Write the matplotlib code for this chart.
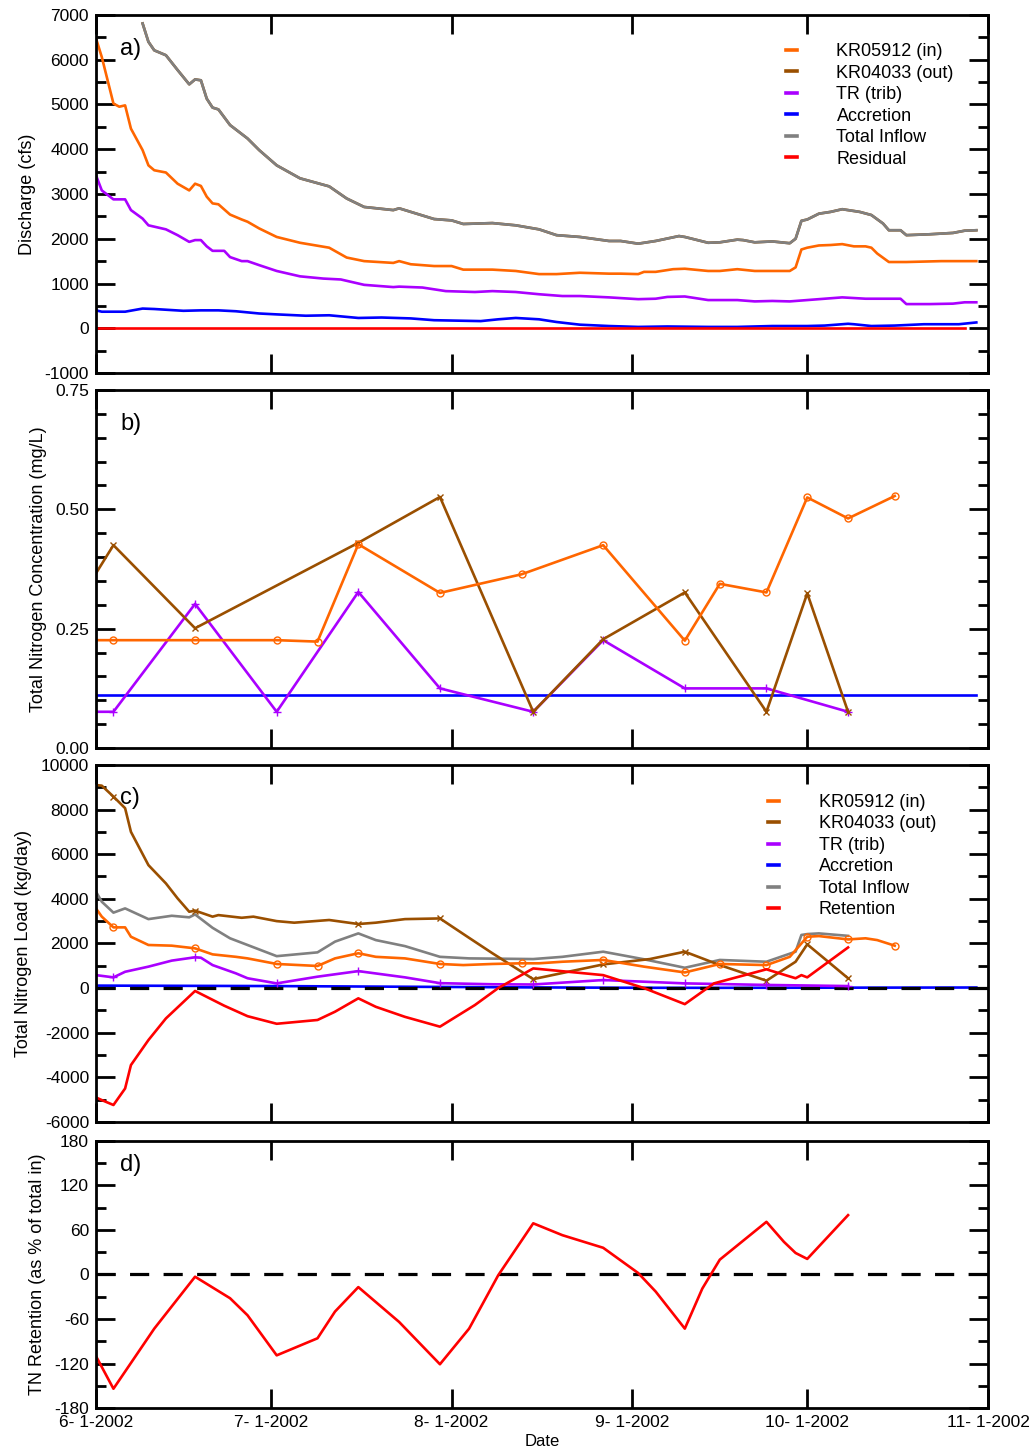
import numpy as np
import matplotlib
matplotlib.use('Agg')
import matplotlib.pyplot as plt
from matplotlib.lines import Line2D
from matplotlib.ticker import MultipleLocator, FormatStrFormatter
from datetime import date

plt.rcParams['font.family'] = ['Liberation Sans', 'DejaVu Sans']
plt.rcParams['axes.unicode_minus'] = False

# x values are days since 2002-06-01
START = date(2002, 6, 1)
month_starts = [date(2002, m, 1) for m in range(6, 12)]
tick_days = [(m - START).days for m in month_starts]
tick_labels = [f"{m.month}- {m.day}-{m.year}" for m in month_starts]

# ---- a) discharge (cfs) ----
in_q_days = [0, 1, 3, 4, 5, 6, 8, 9, 10, 12, 14, 16, 17, 18, 19, 20, 21, 23, 25, 26, 28,
             31, 35, 40, 43, 46, 51, 52, 54, 58, 61, 63, 68, 72, 76, 79, 83, 88, 90, 93,
             94, 96, 99, 101, 105, 107, 110, 113, 116, 119, 120, 121, 122, 124, 126, 128,
             130, 132, 133, 134, 136, 139, 145, 151]
in_q = [6480, 6060, 5020, 4950, 4980, 4460, 3980, 3640, 3530, 3480, 3230, 3080, 3230, 3180,
        2940, 2790, 2770, 2540, 2430, 2380, 2230, 2040, 1910, 1800, 1580, 1500, 1460, 1500,
        1430, 1390, 1390, 1310, 1310, 1280, 1210, 1210, 1240, 1220, 1220, 1210, 1260, 1260,
        1320, 1330, 1280, 1280, 1320, 1280, 1280, 1280, 1360, 1760, 1800, 1850, 1860, 1880,
        1830, 1830, 1800, 1670, 1480, 1480, 1500, 1500]

trib_q_days = [0, 1, 3, 4, 5, 6, 8, 9, 12, 14, 16, 17, 18, 19, 20, 22, 23, 25, 26, 28, 31,
               35, 39, 42, 46, 51, 52, 56, 60, 65, 68, 72, 76, 80, 83, 88, 93, 96, 98, 101,
               105, 110, 113, 116, 119, 122, 125, 128, 132, 136, 138, 139, 143, 147, 149, 151]
trib_q = [3420, 3080, 2880, 2880, 2880, 2640, 2450, 2300, 2210, 2080, 1930, 1970, 1970, 1830,
          1730, 1730, 1590, 1500, 1500, 1410, 1280, 1160, 1110, 1090, 970, 920, 930, 910, 830,
          810, 830, 810, 760, 720, 720, 690, 650, 660, 700, 710, 630, 630, 600, 610, 600, 630,
          660, 690, 660, 660, 660, 540, 540, 550, 580, 580]

acc_q_days = [0, 1, 3, 5, 8, 10, 15, 18, 21, 24, 28, 31, 36, 40, 45, 49, 54, 58, 66, 69, 72,
              76, 79, 83, 88, 93, 98, 105, 110, 116, 122, 125, 129, 130, 133, 137, 142, 148, 151]
acc_q = [400, 370, 370, 370, 440, 430, 390, 400, 400, 380, 330, 310, 280, 290, 230, 240, 220,
         180, 160, 200, 230, 200, 140, 80, 50, 30, 40, 30, 30, 50, 50, 60, 100, 90, 50, 60, 90,
         90, 130]

total_q_days = [8, 9, 10, 12, 14, 16, 17, 18, 19, 20, 21, 23, 25, 26, 28,
                31, 35, 40, 43, 46, 51, 52, 54, 58, 61, 63, 68, 72, 76, 79, 83, 88, 90, 93,
                96, 100, 101, 105, 107, 110, 111, 113, 116, 119, 120, 121, 122, 124, 126, 128,
                131, 133, 135, 136, 138, 139, 143, 147, 149, 151]
total_q = [6810, 6400, 6210, 6100, 5770, 5450, 5560, 5540,
           5130, 4930, 4890, 4540, 4340, 4240, 3980, 3640, 3350, 3170, 2900, 2710, 2640, 2680,
           2600, 2440, 2410, 2330, 2350, 2300, 2210, 2080, 2040, 1950, 1950, 1890, 1950, 2060,
           2040, 1910, 1920, 1980, 1970, 1920, 1940, 1900, 2000, 2400, 2430, 2560, 2600, 2660,
           2600, 2530, 2340, 2190, 2190, 2080, 2100, 2130, 2180, 2190]

# outflow equals total inflow (zero residual)
out_q_days = total_q_days
out_q = total_q
resid_days = [0, 149]
resid_q = [0, 0]

# ---- b) TN concentration (mg/L) ----
in_c_days = [0, 3, 17, 31, 38, 45, 59, 73, 87, 101, 107, 115, 122, 129, 137]
in_c = [0.226, 0.226, 0.226, 0.226, 0.223, 0.427, 0.325, 0.364, 0.425, 0.225, 0.344, 0.326,
        0.525, 0.481, 0.528]
out_c_days = [0, 3, 17, 45, 59, 75, 87, 101, 115, 122, 129]
out_c = [0.366, 0.425, 0.251, 0.430, 0.526, 0.076, 0.228, 0.326, 0.076, 0.324, 0.076]
trib_c_days = [0, 3, 17, 31, 45, 59, 75, 87, 101, 115, 129]
trib_c = [0.076, 0.076, 0.302, 0.076, 0.327, 0.125, 0.076, 0.226, 0.125, 0.125, 0.076]
acc_c_days = [0, 151]
acc_c = [0.111, 0.111]

# ---- c) TN load (kg/day) ----
in_load_days = [0, 1, 3, 5, 6, 9, 13, 17, 20, 24, 26, 31, 38, 41, 45, 48, 53, 59, 63, 68, 73,
                76, 80, 87, 94, 101, 107, 115, 119, 120, 122, 124, 129, 132, 134, 137]
in_load = [3570, 3200, 2720, 2720, 2300, 1930, 1900, 1780, 1510, 1400, 1330, 1080, 990, 1330,
           1560, 1400, 1330, 1080, 1030, 1080, 1110, 1110, 1180, 1260, 960, 700, 1080, 1030,
           1400, 1700, 2300, 2330, 2180, 2230, 2150, 1900]
in_sample_days = [3, 17, 31, 38, 45, 59, 73, 87, 101, 107, 115, 122, 129, 137]

out_load_days = [0, 1, 3, 5, 6, 9, 12, 14, 16, 17, 20, 21, 25, 27, 31, 34, 40, 45, 48, 53, 59,
                 64, 68, 75, 87, 95, 101, 107, 115, 120, 122, 129]
out_load = [9100, 9070, 8580, 8060, 7000, 5510, 4690, 4020, 3420, 3470, 3200, 3270, 3150, 3200,
            3000, 2930, 3050, 2870, 2930, 3090, 3120, 2250, 1560, 400, 1060, 1300, 1630, 1030,
            330, 1180, 1960, 440]
out_sample_days = [3, 17, 45, 59, 75, 87, 101, 115, 122, 129]

trib_load_days = [0, 3, 5, 9, 13, 17, 18, 20, 24, 26, 31, 38, 45, 53, 59, 68, 75, 87, 101, 115,
                  129]
trib_load = [580, 480, 730, 960, 1230, 1380, 1360, 1030, 660, 440, 210, 510, 760, 480, 220,
             170, 160, 360, 210, 140, 90]
trib_sample_days = [3, 17, 31, 45, 59, 75, 87, 101, 115, 129]

acc_load_days = [0, 15, 30, 45, 60, 75, 90, 105, 120, 135, 151]
acc_load = [110, 100, 90, 70, 50, 30, 15, 10, 15, 20, 25]

total_load_days = [0, 1, 3, 5, 9, 13, 16, 17, 20, 23, 26, 31, 38, 41, 45, 48, 53, 59, 64, 75,
                   80, 87, 94, 101, 107, 115, 120, 121, 122, 124, 129]
total_load = [4320, 3870, 3380, 3570, 3090, 3240, 3170, 3300, 2700, 2230, 1930, 1430, 1600, 2080,
              2450, 2150, 1880, 1400, 1330, 1300, 1400, 1630, 1290, 910, 1260, 1180, 1630, 2380,
              2420, 2450, 2340]

ret_load_days = [0, 1, 3, 5, 6, 9, 12, 17, 22, 26, 31, 38, 41, 45, 48, 53, 59, 65, 69, 75, 87,
                 94, 101, 106, 115, 120, 121, 122, 129]
ret_load = [-4900, -5020, -5240, -4500, -3450, -2330, -1360, -130, -790, -1260, -1600, -1430,
            -1060, -460, -840, -1290, -1730, -760, 0, 880, 580, 0, -720, 210, 840, 440, 580,
            480, 1820]

# ---- d) retention as % of total in ----
ret_pct_days = [0, 3, 10, 17, 23, 26, 31, 38, 41, 45, 52, 59, 64, 69, 75, 80, 87, 93, 96, 101,
                104, 107, 115, 118, 120, 122, 129]
ret_pct = [-110, -154, -73, -3, -32, -55, -109, -86, -50, -17, -64, -121, -73, -1, 69, 53, 36,
           2, -23, -73, -19, 20, 71, 44, 29, 21, 80]

C_IN = '#ff6600'
C_OUT = '#9a4f00'
C_TRIB = '#aa00ff'
C_ACC = '#0000ff'
C_TOT = '#808080'
C_RED = '#ff0000'
LW = 1.9
LABEL_FS = 13


def style_axis(ax, ylim, major, minor, show_x=False):
    ax.set_xlim(0, tick_days[-1])
    ax.set_ylim(*ylim)
    ax.set_xticks(tick_days)
    ax.set_xticklabels(tick_labels if show_x else [])
    ax.yaxis.set_major_locator(MultipleLocator(major))
    ax.yaxis.set_minor_locator(MultipleLocator(minor))
    ax.tick_params(which='both', direction='in', top=True, right=True, width=2,
                   labelsize=12.5, pad=5)
    ax.tick_params(which='major', length=14)
    ax.tick_params(which='minor', length=7)
    for s in ax.spines.values():
        s.set_linewidth(2)


def add_legend(ax, labels, colors, x, y):
    handles = [Line2D([], [], color=c, lw=2.6) for c in colors]
    ax.legend(handles, labels, loc='upper left', bbox_to_anchor=(x, y), frameon=False,
              fontsize=13, handlelength=0.6, handletextpad=2.2, labelspacing=0.25,
              borderpad=0, borderaxespad=0)


fig = plt.figure(figsize=(10.34, 14.52), dpi=100)
left, width = 0.0928, 0.8627
ax_a = fig.add_axes([left, 0.7431, width, 0.2466])
ax_b = fig.add_axes([left, 0.4848, width, 0.2466])
ax_c = fig.add_axes([left, 0.2273, width, 0.2459])
ax_d = fig.add_axes([left, 0.0303, width, 0.1839])

# a) discharge
ax_a.plot(out_q_days, out_q, color=C_OUT, lw=LW)
ax_a.plot(total_q_days, total_q, color=C_TOT, lw=LW)
ax_a.plot(in_q_days, in_q, color=C_IN, lw=LW)
ax_a.plot(trib_q_days, trib_q, color=C_TRIB, lw=LW)
ax_a.plot(acc_q_days, acc_q, color=C_ACC, lw=LW)
ax_a.plot(resid_days, resid_q, color=C_RED, lw=LW)
style_axis(ax_a, (-1000, 7000), 1000, 500)
ax_a.set_ylabel('Discharge (cfs)', fontsize=LABEL_FS, labelpad=6)
add_legend(ax_a, ['KR05912 (in)', 'KR04033 (out)', 'TR (trib)', 'Accretion',
                  'Total Inflow', 'Residual'],
           [C_IN, C_OUT, C_TRIB, C_ACC, C_TOT, C_RED], 0.7735, 0.921)

# b) concentration
ax_b.plot(acc_c_days, acc_c, color=C_ACC, lw=LW)
ax_b.plot(trib_c_days, trib_c, color=C_TRIB, lw=LW, marker='+', ms=6, mew=1,
          markevery=slice(1, None))
ax_b.plot(out_c_days, out_c, color=C_OUT, lw=LW, marker='x', ms=5, mew=1,
          markevery=slice(1, None))
ax_b.plot(in_c_days, in_c, color=C_IN, lw=LW, marker='o', ms=5, mew=1, mfc='none',
          markevery=slice(1, None))
style_axis(ax_b, (0, 0.75), 0.25, 0.05)
ax_b.yaxis.set_major_formatter(FormatStrFormatter('%.2f'))
ax_b.set_ylabel('Total Nitrogen Concentration (mg/L)', fontsize=LABEL_FS, labelpad=6)

# c) load
ax_c.plot(acc_load_days, acc_load, color=C_ACC, lw=LW)
ax_c.axhline(0, color='k', lw=2.3, dashes=(6, 4.5))
ax_c.plot(total_load_days, total_load, color=C_TOT, lw=LW)
ax_c.plot(out_load_days, out_load, color=C_OUT, lw=LW)
ax_c.plot(out_sample_days, np.interp(out_sample_days, out_load_days, out_load),
          ls='none', marker='x', ms=5, mew=1, color=C_OUT)
ax_c.plot(trib_load_days, trib_load, color=C_TRIB, lw=LW)
ax_c.plot(trib_sample_days, np.interp(trib_sample_days, trib_load_days, trib_load),
          ls='none', marker='+', ms=6, mew=1, color=C_TRIB)
ax_c.plot(in_load_days, in_load, color=C_IN, lw=LW)
ax_c.plot(in_sample_days, np.interp(in_sample_days, in_load_days, in_load),
          ls='none', marker='o', ms=5, mew=1, mfc='none', color=C_IN)
ax_c.plot(ret_load_days, ret_load, color=C_RED, lw=LW)
style_axis(ax_c, (-6000, 10000), 2000, 1000)
ax_c.set_ylabel('Total Nitrogen Load (kg/day)', fontsize=LABEL_FS, labelpad=6)
add_legend(ax_c, ['KR05912 (in)', 'KR04033 (out)', 'TR (trib)', 'Accretion',
                  'Total Inflow', 'Retention'],
           [C_IN, C_OUT, C_TRIB, C_ACC, C_TOT, C_RED], 0.7534, 0.919)

# d) retention percentage
ax_d.axhline(0, color='k', lw=2.3, dashes=(6, 4.5))
ax_d.plot(ret_pct_days, ret_pct, color=C_RED, lw=LW)
style_axis(ax_d, (-180, 180), 60, 30, show_x=True)
ax_d.set_ylabel('TN Retention (as % of total in)', fontsize=LABEL_FS, labelpad=6)
ax_d.set_xlabel('Date', fontsize=12, labelpad=3)

for ax, lab, yy in [(ax_a, 'a)', 0.905), (ax_b, 'b)', 0.905), (ax_c, 'c)', 0.907),
                    (ax_d, 'd)', 0.91)]:
    ax.text(0.027, yy, lab, transform=ax.transAxes, fontsize=17, va='center', ha='left')

fig.savefig('out.png', dpi=100)
